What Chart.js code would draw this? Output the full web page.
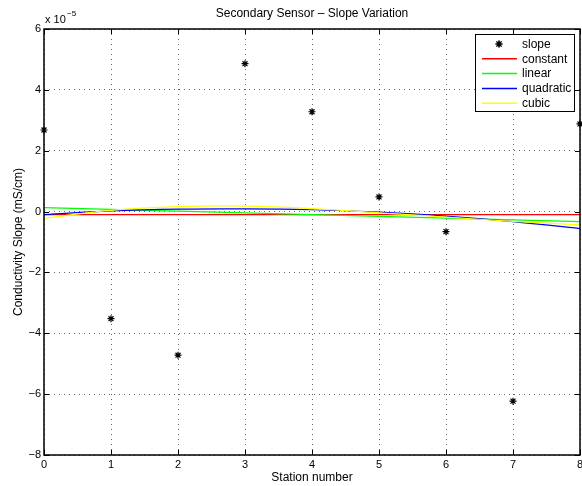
<!DOCTYPE html>
<html>
<head>
<meta charset="utf-8">
<title>Secondary Sensor – Slope Variation</title>
<script src="https://cdn.jsdelivr.net/npm/chart.js@4.4.1/dist/chart.umd.min.js"></script>
<style>
  html, body { margin: 0; padding: 0; background: #fff; }
  #wrap { width: 582px; height: 486px; position: relative; }
</style>
</head>
<body>
<div id="wrap"><canvas id="slopeChart"></canvas></div>
<script>
// ---- data (values in units of 1e-5 mS/cm) ----
const stations = [0, 1, 2, 3, 4, 5, 6, 7, 8];
const slopeValues = [2.68, -3.52, -4.72, 4.86, 3.28, 0.48, -0.66, -6.23, 2.88];

// fitted curves
const constantX = [0, 8];
const constantY = [-0.1, -0.1];
const linearX = [0, 8];
const linearY = [0.13, -0.33];
const quadraticY = [-0.10, 0.02, 0.08, 0.09, 0.06, -0.02, -0.15, -0.33, -0.56];
const cubicY = [-0.22, 0.04, 0.16, 0.18, 0.10, -0.04, -0.18, -0.32, -0.44];

const xTicks = [0, 1, 2, 3, 4, 5, 6, 7, 8];
const yTicks = [-8, -6, -4, -2, 0, 2, 4, 6];

const FONT = "'Liberation Sans', Arial, Helvetica, sans-serif";
Chart.defaults.font.family = FONT;
Chart.defaults.color = "#000";

const toPoints = (xs, ys) => xs.map((x, i) => ({ x, y: ys[i] }));
const minus = v => (v < 0 ? "\u2212" + Math.abs(v) : String(v));

// box, inward ticks, title, exponent and legend, drawn MATLAB style
const matlabPlugin = {
  id: "matlabBox",
  afterDraw(chart) {
    const { ctx, chartArea: a, scales } = chart;
    const xs = scales.x, ys = scales.y;
    ctx.save();

    // inward tick marks on all four sides
    ctx.strokeStyle = "#000";
    ctx.lineWidth = 1;
    ctx.beginPath();
    xTicks.forEach(t => {
      const px = Math.round(xs.getPixelForValue(t)) + 0.5;
      ctx.moveTo(px, a.bottom); ctx.lineTo(px, a.bottom - 5);
      ctx.moveTo(px, a.top); ctx.lineTo(px, a.top + 5);
    });
    yTicks.forEach(t => {
      const py = Math.round(ys.getPixelForValue(t)) + 0.5;
      ctx.moveTo(a.left, py); ctx.lineTo(a.left + 5, py);
      ctx.moveTo(a.right, py); ctx.lineTo(a.right - 5, py);
    });
    ctx.stroke();

    // axes box
    ctx.lineWidth = 1.5;
    ctx.strokeRect(a.left, a.top, a.right - a.left, a.bottom - a.top);

    // title
    ctx.fillStyle = "#000";
    ctx.textAlign = "center";
    ctx.textBaseline = "middle";
    ctx.font = "12px " + FONT;
    ctx.fillText("Secondary Sensor \u2013 Slope Variation", (a.left + a.right) / 2, 14);

    // exponent label
    ctx.textAlign = "left";
    ctx.textBaseline = "alphabetic";
    ctx.font = "11px " + FONT;
    ctx.fillText("x 10", 45, 23);
    ctx.font = "8px " + FONT;
    ctx.fillText("\u22125", 67, 16);

    // legend
    const lx = 475, ly = 34, lw = 99, lh = 77;
    ctx.fillStyle = "#fff";
    ctx.fillRect(lx, ly, lw, lh);
    ctx.strokeStyle = "#000";
    ctx.lineWidth = 1;
    ctx.strokeRect(lx + 0.5, ly + 0.5, lw, lh);
    ctx.font = "12px " + FONT;
    ctx.textBaseline = "middle";
    chart.data.datasets.forEach((ds, i) => {
      const y = ly + 10 + i * 14.8;
      if (ds.showLine === false) {
        Chart.helpers.drawPoint(ctx, {
          pointStyle: "star", radius: 3.5, borderWidth: 1.2
        }, 499, y);
        ctx.strokeStyle = "#000";
        ctx.lineWidth = 1.2;
        ctx.stroke();
      } else {
        ctx.strokeStyle = ds.borderColor;
        ctx.lineWidth = 1.5;
        ctx.beginPath();
        ctx.moveTo(482, y); ctx.lineTo(517, y);
        ctx.stroke();
      }
      ctx.fillStyle = "#000";
      ctx.fillText(ds.label, 522, y + 0.5);
    });
    ctx.restore();
  }
};

const lineStyle = color => ({
  showLine: true,
  borderColor: color,
  backgroundColor: color,
  borderWidth: 1.2,
  pointRadius: 0,
  fill: false
});

const ctx = document.getElementById("slopeChart").getContext("2d");
new Chart(ctx, {
  type: "scatter",
  data: {
    datasets: [
      {
        label: "slope",
        data: toPoints(stations, slopeValues),
        showLine: false,
        pointStyle: "star",
        pointRadius: 3.5,
        pointBorderWidth: 1.2,
        borderColor: "#000",
        backgroundColor: "#000",
        clip: false,
        order: 0
      },
      { label: "constant", data: toPoints(constantX, constantY), ...lineStyle("#ff0000"), order: 4 },
      { label: "linear", data: toPoints(linearX, linearY), ...lineStyle("#00ff00"), order: 3 },
      { label: "quadratic", data: toPoints(stations, quadraticY), ...lineStyle("#0000ff"), tension: 0.4, order: 2 },
      { label: "cubic", data: toPoints(stations, cubicY), ...lineStyle("#ffff00"), tension: 0.4, order: 1 }
    ]
  },
  options: {
    responsive: true,
    maintainAspectRatio: false,
    animation: false,
    layout: { autoPadding: false, padding: { top: 29, right: 2, left: 0, bottom: 0 } },
    plugins: {
      legend: { display: false },
      tooltip: { enabled: false },
      title: { display: false }
    },
    scales: {
      x: {
        type: "linear",
        min: 0,
        max: 8,
        afterBuildTicks: s => { s.ticks = xTicks.map(v => ({ value: v })); },
        afterFit: s => { s.height = 31; s.paddingLeft = 0; s.paddingRight = 0; },
        ticks: { color: "#000", font: { size: 11 }, padding: 3, maxRotation: 0, callback: v => minus(v) },
        grid: { color: "rgba(0,0,0,0.6)", lineWidth: 1, drawTicks: false },
        border: { display: false, dash: [1, 4] },
        title: { display: true, text: "Station number", color: "#000", font: { size: 12 }, padding: { top: 0, bottom: 1 } }
      },
      y: {
        type: "linear",
        min: -8,
        max: 6,
        afterBuildTicks: s => { s.ticks = yTicks.map(v => ({ value: v })); },
        afterFit: s => { s.width = 44; s.paddingTop = 0; s.paddingBottom = 0; },
        ticks: { color: "#000", font: { size: 11 }, padding: 3, callback: v => minus(v) },
        grid: { color: "rgba(0,0,0,0.6)", lineWidth: 1, drawTicks: false },
        border: { display: false, dash: [1, 4] },
        title: { display: true, text: "Conductivity Slope (mS/cm)", color: "#000", font: { size: 12 }, padding: { top: 11, bottom: 0 } }
      }
    }
  },
  plugins: [matlabPlugin]
});
</script>
</body>
</html>
